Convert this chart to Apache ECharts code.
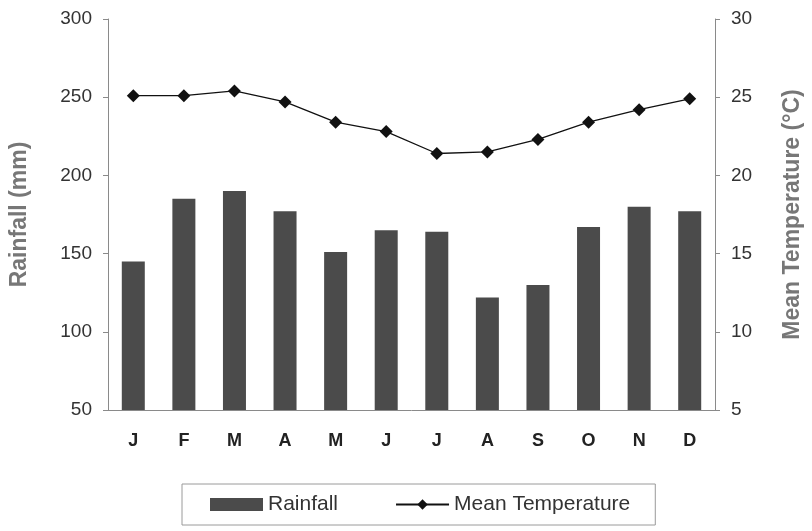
<!DOCTYPE html>
<html>
<head>
<meta charset="utf-8">
<script src="https://cdn.jsdelivr.net/npm/echarts@6/dist/echarts.min.js"></script>
<style>
  html, body { margin: 0; padding: 0; background: #fff; }
  #chart { width: 812px; height: 531px; }
</style>
</head>
<body>
<div id="chart"></div>
<script>
// Monthly climate data
const months = ['J', 'F', 'M', 'A', 'M', 'J', 'J', 'A', 'S', 'O', 'N', 'D'];
const rainfall = [145, 185, 190, 177, 151, 165, 164, 122, 130, 167, 180, 177];
const meanTemperature = [25.1, 25.1, 25.4, 24.7, 23.4, 22.8, 21.4, 21.5, 22.3, 23.4, 24.2, 24.9];

const rainTicks = { min: 50, max: 300, interval: 50 };
const tempTicks = { min: 5, max: 30, interval: 5 };

const FONT = '"Liberation Sans", Arial, sans-serif';
const axisGray = '#8a8a8a';

const chart = echarts.init(document.getElementById('chart'), null, { renderer: 'canvas' });

chart.setOption({
  animation: false,
  backgroundColor: '#ffffff',
  grid: { left: 108, right: 96, top: 19, bottom: 121, containLabel: false },
  legend: {
    left: 182,
    top: 484,
    orient: 'horizontal',
    padding: [10, 25, 10, 28],
    itemGap: 57,
    itemWidth: 53,
    itemHeight: 13,
    borderColor: '#9a9a9a',
    borderWidth: 1,
    textStyle: { fontFamily: FONT, fontSize: 21, color: '#333' },
    data: [
      { name: 'Rainfall', icon: 'rect' },
      { name: 'Mean Temperature' }
    ]
  },
  xAxis: {
    type: 'category',
    data: months,
    boundaryGap: true,
    axisLine: { lineStyle: { color: axisGray, width: 1 } },
    axisTick: { show: false },
    axisLabel: {
      fontFamily: FONT, fontSize: 18, fontWeight: 'bold', color: '#222', margin: 22
    }
  },
  yAxis: [
    {
      type: 'value',
      name: 'Rainfall (mm)',
      nameLocation: 'middle',
      nameGap: 77,
      nameTextStyle: { fontFamily: FONT, fontSize: 23, fontWeight: 'bold', color: '#777' },
      min: rainTicks.min, max: rainTicks.max, interval: rainTicks.interval,
      axisLine: { show: true, lineStyle: { color: axisGray, width: 1 } },
      axisTick: { show: true, length: 5, lineStyle: { color: axisGray } },
      splitLine: { show: false },
      axisLabel: { fontFamily: FONT, fontSize: 19, color: '#333', margin: 16 }
    },
    {
      type: 'value',
      name: 'Mean Temperature (°C)',
      nameLocation: 'middle',
      nameGap: 66,
      nameRotate: 90,
      nameTextStyle: { fontFamily: FONT, fontSize: 23, fontWeight: 'bold', color: '#777' },
      position: 'right',
      min: tempTicks.min, max: tempTicks.max, interval: tempTicks.interval,
      axisLine: { show: true, lineStyle: { color: axisGray, width: 1 } },
      axisTick: { show: true, length: 5, lineStyle: { color: axisGray } },
      splitLine: { show: false },
      axisLabel: { fontFamily: FONT, fontSize: 19, color: '#333', margin: 16 }
    }
  ],
  series: [
    {
      name: 'Rainfall',
      type: 'bar',
      yAxisIndex: 0,
      data: rainfall,
      barWidth: 23,
      itemStyle: { color: '#4b4b4b' }
    },
    {
      name: 'Mean Temperature',
      type: 'line',
      yAxisIndex: 1,
      data: meanTemperature,
      symbol: 'diamond',
      symbolSize: 13,
      lineStyle: { color: '#111', width: 1.3 },
      itemStyle: { color: '#111' }
    }
  ]
});
</script>
</body>
</html>
